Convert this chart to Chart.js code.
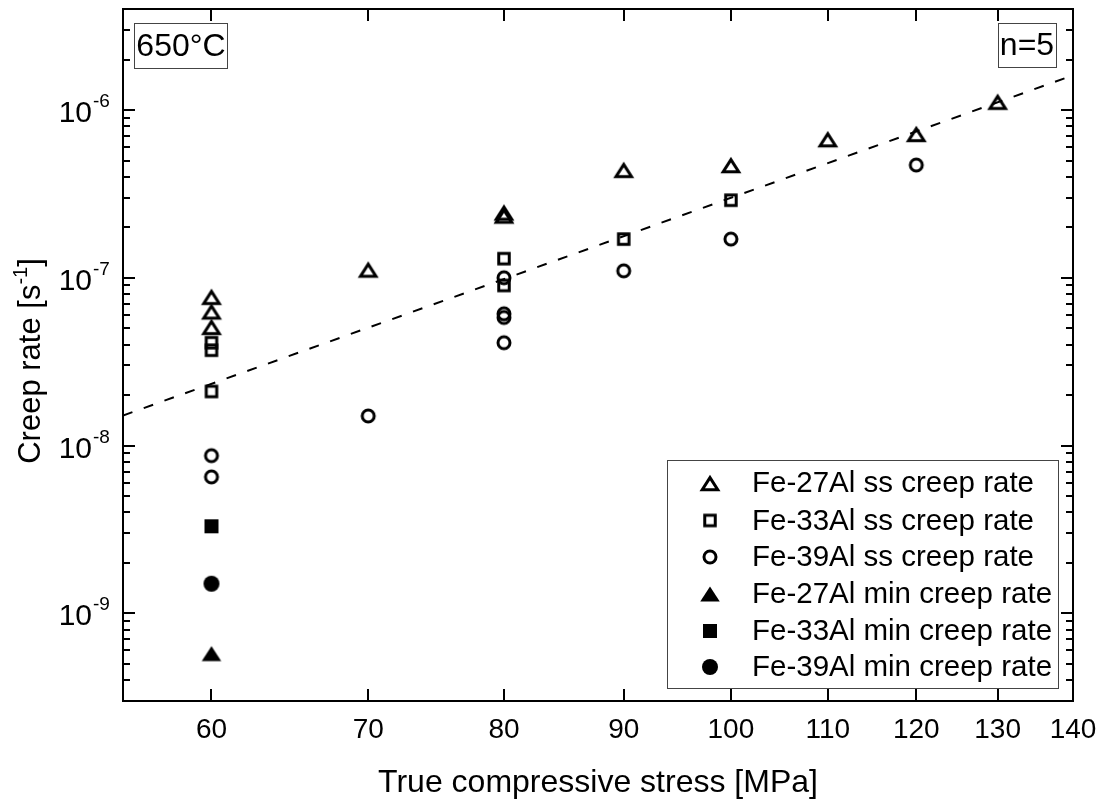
<!DOCTYPE html>
<html>
<head>
<meta charset="utf-8">
<script src="https://cdn.jsdelivr.net/npm/chart.js@4.4.1/dist/chart.umd.min.js"></script>
<style>
  html, body { margin: 0; padding: 0; background: #fff; }
  #wrap { width: 1103px; height: 800px; position: relative; }
</style>
</head>
<body>
<div id="wrap"><canvas id="c"></canvas></div>
<script>
// Axis ticks
const stressTicks = [60, 70, 80, 90, 100, 110, 120, 130, 140];
const rateDecades = [-10, -9, -8, -7, -6];

// Steady-state creep rates (s^-1) vs true compressive stress (MPa)
const fe27ssStress = [60, 60, 60, 70, 80, 80, 90, 100, 110, 120, 130];
const fe27ssRate   = [7.7e-8, 6.3e-8, 5.1e-8, 1.12e-7, 2.45e-7, 2.35e-7, 4.4e-7, 4.7e-7, 6.7e-7, 7.2e-7, 1.12e-6];
const fe33ssStress = [60, 60, 60, 80, 80, 90, 100];
const fe33ssRate   = [4.1e-8, 3.7e-8, 2.1e-8, 1.3e-7, 9.0e-8, 1.7e-7, 2.9e-7];
const fe39ssStress = [60, 60, 70, 80, 80, 80, 80, 90, 100, 120];
const fe39ssRate   = [8.7e-9, 6.5e-9, 1.5e-8, 1.0e-7, 6.1e-8, 5.8e-8, 4.1e-8, 1.1e-7, 1.7e-7, 4.7e-7];

// Minimum creep rates
const fe27minStress = [60];
const fe27minRate   = [5.75e-10];
const fe33minStress = [60];
const fe33minRate   = [3.3e-9];
const fe39minStress = [60];
const fe39minRate   = [1.5e-9];

// Stress exponent guide line (n = 5)
const fitStress = [55, 140];
const fitRate   = [1.51e-8, 1.61e-6];

const seriesLabels = [
  'Fe-27Al ss creep rate',
  'Fe-33Al ss creep rate',
  'Fe-39Al ss creep rate',
  'Fe-27Al min creep rate',
  'Fe-33Al min creep rate',
  'Fe-39Al min creep rate'
];

const FONT = "'Liberation Sans', Arial, Helvetica, sans-serif";

// Symbol images (bounding box centred on the data point)
function makeSymbol(kind, filled) {
  const S = 28;
  const cv = document.createElement('canvas');
  cv.width = S; cv.height = S;
  const g = cv.getContext('2d');
  const c = S / 2;
  g.strokeStyle = '#000';
  g.fillStyle = '#000';
  g.lineJoin = 'miter';
  const lw = 3;
  g.lineWidth = lw;
  g.beginPath();
  if (kind === 'triangle') {
    if (filled) {
      const w = 19.5, h = 15;
      g.moveTo(c, c - h / 2);
      g.lineTo(c + w / 2, c + h / 2);
      g.lineTo(c - w / 2, c + h / 2);
      g.closePath();
      g.fill();
    } else {
      const w = 15.5, h = 12;
      const half = Math.atan((w / 2) / h);
      const m = (lw / 2) / Math.sin(half);
      const outerH = h + m + lw / 2;
      const apexY = c - outerH / 2 + m;
      g.moveTo(c, apexY);
      g.lineTo(c + w / 2, apexY + h);
      g.lineTo(c - w / 2, apexY + h);
      g.closePath();
      g.stroke();
    }
  } else if (kind === 'square') {
    if (filled) {
      const s = 14;
      g.fillRect(c - s / 2, c - s / 2, s, s);
    } else {
      const s = 10.5;
      g.rect(c - s / 2, c - s / 2, s, s);
      g.stroke();
    }
  } else {
    if (filled) {
      g.arc(c, c, 8, 0, Math.PI * 2);
      g.fill();
    } else {
      g.arc(c, c, 6, 0, Math.PI * 2);
      g.stroke();
    }
  }
  return cv;
}

const symbols = [
  makeSymbol('triangle', false),
  makeSymbol('square', false),
  makeSymbol('circle', false),
  makeSymbol('triangle', true),
  makeSymbol('square', true),
  makeSymbol('circle', true)
];

function pts(xs, ys) { return xs.map((x, i) => ({ x: x, y: ys[i] })); }

const seriesData = [
  pts(fe27ssStress, fe27ssRate),
  pts(fe33ssStress, fe33ssRate),
  pts(fe39ssStress, fe39ssRate),
  pts(fe27minStress, fe27minRate),
  pts(fe33minStress, fe33minRate),
  pts(fe39minStress, fe39minRate)
];

const datasets = seriesData.map((d, i) => ({
  label: seriesLabels[i],
  data: d,
  pointStyle: symbols[i],
  pointRadius: 8,
  showLine: false,
  order: 1
}));

datasets.push({
  label: 'n=5',
  type: 'line',
  data: pts(fitStress, fitRate),
  borderColor: '#000',
  borderWidth: 2,
  borderDash: [10, 12],
  pointRadius: 0,
  fill: false,
  tension: 0,
  order: 10
});

// Frame, inward ticks, tick labels, titles, annotations and legend
const decorations = {
  id: 'decorations',
  afterDraw(chart) {
    const ctx = chart.ctx;
    const a = chart.chartArea;
    const xs = chart.scales.x, ys = chart.scales.y;
    ctx.save();
    ctx.strokeStyle = '#000';
    ctx.fillStyle = '#000';
    ctx.lineWidth = 2;

    // frame
    ctx.strokeRect(a.left, a.top, a.right - a.left, a.bottom - a.top);

    // x ticks (bottom and top)
    const majLen = 12, minLen = 7;
    ctx.beginPath();
    stressTicks.forEach(v => {
      const px = Math.round(xs.getPixelForValue(v));
      if (px > a.left + 1 && px < a.right - 1) {
        ctx.moveTo(px, a.bottom); ctx.lineTo(px, a.bottom - majLen);
        ctx.moveTo(px, a.top); ctx.lineTo(px, a.top + majLen);
      }
    });
    // y ticks (left and right)
    rateDecades.forEach(d => {
      for (let k = 1; k <= 9; k++) {
        const v = k * Math.pow(10, d);
        if (v < ys.min || v > ys.max) continue;
        const py = Math.round(ys.getPixelForValue(v));
        const len = k === 1 ? majLen : minLen;
        ctx.moveTo(a.left, py); ctx.lineTo(a.left + len, py);
        ctx.moveTo(a.right, py); ctx.lineTo(a.right - len, py);
      }
    });
    ctx.stroke();

    // x tick labels
    ctx.font = '28px ' + FONT;
    ctx.textAlign = 'center';
    ctx.textBaseline = 'alphabetic';
    stressTicks.forEach(v => {
      ctx.fillText(String(v), xs.getPixelForValue(v), a.bottom + 37);
    });

    // y tick labels (10 with superscript exponent)
    rateDecades.forEach(d => {
      const v = Math.pow(10, d);
      if (v < ys.min || v > ys.max) return;
      const py = ys.getPixelForValue(v);
      ctx.font = '30px ' + FONT;
      ctx.textAlign = 'right';
      ctx.textBaseline = 'alphabetic';
      ctx.fillText('10', 92, py + 12);
      ctx.font = '19px ' + FONT;
      ctx.textAlign = 'left';
      ctx.fillText('-' + Math.abs(d), 93, py - 3);
    });

    // x title
    ctx.font = '32px ' + FONT;
    ctx.textAlign = 'center';
    ctx.fillText('True compressive stress [MPa]', (a.left + a.right) / 2, 792);

    // y title with superscript unit
    ctx.save();
    ctx.translate(40, 361);
    ctx.rotate(-Math.PI / 2);
    const p1 = 'Creep rate [s', p2 = '-1', p3 = ']';
    ctx.font = '31px ' + FONT;
    const w1 = ctx.measureText(p1).width, w3 = ctx.measureText(p3).width;
    ctx.font = '20px ' + FONT;
    const w2 = ctx.measureText(p2).width;
    let x0 = -(w1 + w2 + w3) / 2;
    ctx.textAlign = 'left';
    ctx.font = '31px ' + FONT;
    ctx.fillText(p1, x0, 0);
    ctx.font = '20px ' + FONT;
    ctx.fillText(p2, x0 + w1, -13);
    ctx.font = '31px ' + FONT;
    ctx.fillText(p3, x0 + w1 + w2, 0);
    ctx.restore();

    // annotation boxes
    ctx.lineWidth = 1;
    ctx.strokeStyle = '#444';
    ctx.strokeRect(134.5, 23.5, 93, 45);
    ctx.strokeRect(998.5, 23.5, 58, 44);
    ctx.font = '32px ' + FONT;
    ctx.textAlign = 'center';
    ctx.textBaseline = 'middle';
    ctx.fillText('650°C', 181, 47);
    ctx.fillText('n=5', 1027, 46);

    // legend
    ctx.strokeRect(667.5, 460.5, 391, 228);
    const rowY = [483, 520.5, 557, 594, 631, 667];
    ctx.font = '29.5px ' + FONT;
    ctx.textAlign = 'left';
    ctx.textBaseline = 'middle';
    seriesLabels.forEach((lab, i) => {
      const img = symbols[i];
      ctx.drawImage(img, 710 - img.width / 2, rowY[i] - img.height / 2);
      ctx.fillText(lab, 752, rowY[i] + 1);
    });
    ctx.restore();
  }
};

new Chart(document.getElementById('c'), {
  type: 'scatter',
  data: { datasets: datasets },
  options: {
    responsive: true,
    maintainAspectRatio: false,
    animation: false,
    devicePixelRatio: 1,
    layout: { padding: { left: 0, right: 30, top: 6, bottom: 0 } },
    plugins: { legend: { display: false }, tooltip: { enabled: false } },
    scales: {
      x: {
        type: 'logarithmic', min: 55, max: 140, position: 'bottom',
        grid: { display: false }, border: { display: false },
        ticks: { display: false },
        afterBuildTicks: s => { s.ticks = stressTicks.map(v => ({ value: v })); },
        afterFit: s => { s.height = 99; }
      },
      y: {
        type: 'logarithmic', min: 3e-10, max: 4e-6, position: 'left',
        grid: { display: false }, border: { display: false },
        ticks: { display: false },
        afterFit: s => { s.width = 123; }
      }
    }
  },
  plugins: [decorations]
});
</script>
</body>
</html>
